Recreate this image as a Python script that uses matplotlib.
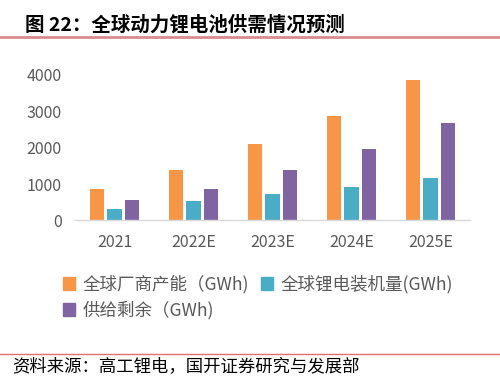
import matplotlib
matplotlib.use("Agg")
import matplotlib.pyplot as plt
import numpy as np
from matplotlib.patches import Patch
from matplotlib.lines import Line2D

plt.rcParams['font.family'] = ['Noto Sans CJK SC', 'DejaVu Sans']

categories = ["2021", "2022E", "2023E", "2024E", "2025E"]
capacity = [866, 1380, 2110, 2880, 3852]
installed = [316, 536, 720, 920, 1168]
surplus = [563, 857, 1387, 1956, 2680]
series_names = ["全球厂商产能（GWh)", "全球锂电装机量(GWh)", "供给剩余（GWh)"]
colors = ["#F79646", "#4BACC6", "#8064A2"]
title = "图 22：全球动力锂电池供需情况预测"
source = "资料来源：高工锂电，国开证券研究与发展部"

fig = plt.figure(figsize=(5.0, 3.82), dpi=100)
ax = fig.add_axes([0.15, 0.4228, 0.79, 0.381])

x = np.arange(len(categories))
w = 0.18
step = 0.22
for i, (vals, c) in enumerate(zip([capacity, installed, surplus], colors)):
    ax.bar(x + (i - 1) * step, vals, width=w, color=c, label=series_names[i])

ax.set_xlim(-0.5, len(categories) - 0.5)
ax.set_ylim(0, 4000)
ax.set_yticks([0, 1000, 2000, 3000, 4000])
ax.set_xticks(x)
ax.set_xticklabels(categories)
for s in ["top", "right", "left"]:
    ax.spines[s].set_visible(False)
ax.spines["bottom"].set_color("#D9D9D9")
ax.spines["bottom"].set_linewidth(1.0)
ax.tick_params(axis="both", length=0, colors="#595959", labelsize=11.5)
ax.tick_params(axis="y", pad=9.5)
ax.tick_params(axis="x", pad=10)

handles = [Patch(color=c) for c in colors]
order = [0, 2, 1]
leg = fig.legend([handles[i] for i in order], [series_names[i] for i in order],
                 ncol=2, loc="upper left", bbox_to_anchor=(0.126, 0.28),
                 frameon=False, fontsize=12.6, handlelength=0.7, handleheight=0.7,
                 handletextpad=0.4, columnspacing=0.7, labelspacing=0.42,
                 borderaxespad=0, borderpad=0)
for t in leg.get_texts():
    t.set_color("#595959")

fig.text(0.05, 1 - 25 / 382, title, fontsize=14, fontweight="bold",
         color="black", va="center", ha="left")
fig.add_artist(Line2D([0, 1], [1 - 36.5 / 382] * 2, color="#D88C8C", lw=2.0,
                      transform=fig.transFigure))
fig.add_artist(Line2D([0, 1], [1 - 353.5 / 382] * 2, color="#E07070", lw=1.0,
                      transform=fig.transFigure))
fig.text(0.024, 1 - 366 / 382, source, fontsize=12.5, color="black",
         va="center", ha="left")

fig.savefig("out.png", dpi=100)
